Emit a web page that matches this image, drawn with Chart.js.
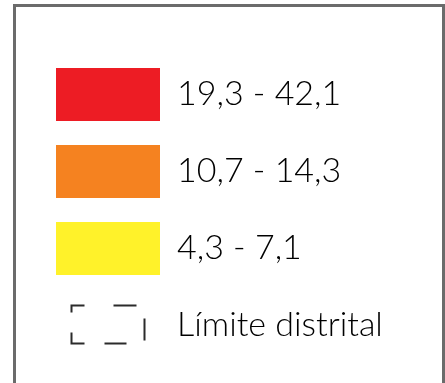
<!DOCTYPE html>
<html>
<head>
<meta charset="utf-8">
<script src="https://cdn.jsdelivr.net/npm/chart.js@4"></script>
<style>
  html, body { margin: 0; padding: 0; background: #fff; overflow: hidden; }
  #wrap { position: relative; width: 445px; height: 383px; }
  #frame {
    position: absolute; left: 13px; top: 4px; width: 426px; height: 400px;
    border: 3px solid #6b6b6b; border-bottom: none; pointer-events: none;
  }
</style>
</head>
<body>
<div id="wrap">
  <canvas id="legendChart" width="445" height="383"></canvas>
  <div id="frame"></div>
</div>
<script>
// rangos de la leyenda (de mayor a menor)
const rangeLabels = ['19,3 - 42,1', '10,7 - 14,3', '4,3 - 7,1'];
const rangeColors = ['#ED1C24', '#F58220', '#FFF22A'];
const boundaryLabel = 'Límite distrital';
const boundaryColor = '#2b2b2b';

// simbolo de limite: rectangulo discontinuo dentro de la caja de la leyenda
const boundarySymbol = {
  id: 'boundarySymbol',
  afterDraw(chart) {
    const box = chart.legend.legendHitBoxes[rangeLabels.length];
    if (!box) return;
    const bw = chart.options.plugins.legend.labels.boxWidth;
    const cx = box.left + bw / 2;
    const cy = box.top + box.height / 2 - 1;
    const w = 73, h = 38;
    const ctx = chart.ctx;
    ctx.save();
    ctx.strokeStyle = boundaryColor;
    ctx.lineWidth = 2;
    // trazos medidos sobre el perimetro, empezando en la esquina superior izquierda
    ctx.setLineDash([13, 29, 23, 21, 22, 21, 22, 20, 24, 20, 7]);
    ctx.strokeRect(cx - w / 2, cy - h / 2, w, h);
    ctx.restore();
  }
};

const ctx = document.getElementById('legendChart').getContext('2d');
new Chart(ctx, {
  type: 'bar',
  data: {
    labels: [],
    datasets: rangeLabels.map((l, i) => ({ label: l, data: [], backgroundColor: rangeColors[i] }))
      .concat([{ label: boundaryLabel, data: [], backgroundColor: 'rgba(0,0,0,0)' }])
  },
  plugins: [boundarySymbol],
  options: {
    responsive: false,
    animation: false,
    layout: { padding: { left: 32, top: 44, right: 0, bottom: 0 } },
    scales: { x: { display: false }, y: { display: false } },
    plugins: {
      tooltip: { enabled: false },
      legend: {
        position: 'top',
        align: 'start',
        maxHeight: 330,
        labels: {
          boxWidth: 104,
          boxHeight: 53,
          padding: 24,
          color: '#231F20',
          font: { family: 'Lato', size: 34, weight: 300 },
          generateLabels: function(chart) {
            const items = rangeLabels.map((l, i) => ({
              text: l, fillStyle: rangeColors[i], strokeStyle: rangeColors[i],
              lineWidth: 0, hidden: false, datasetIndex: i
            }));
            items.push({
              text: boundaryLabel, fillStyle: 'rgba(0,0,0,0)', strokeStyle: 'rgba(0,0,0,0)',
              lineWidth: 0, hidden: false, datasetIndex: rangeLabels.length
            });
            return items;
          }
        }
      }
    }
  }
});
</script>
</body>
</html>
